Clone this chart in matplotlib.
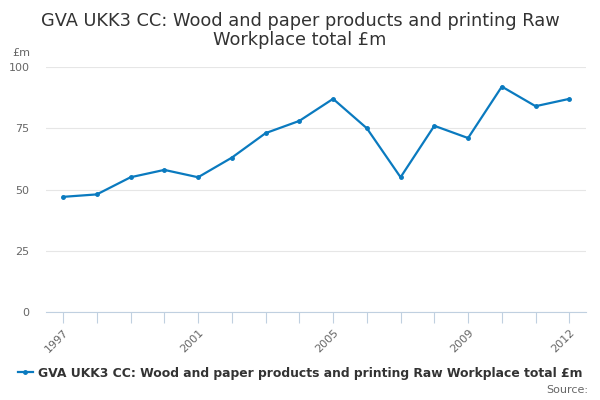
import matplotlib
matplotlib.use("Agg")
from matplotlib import pyplot as plt
from matplotlib.lines import Line2D

years = list(range(1997, 2013))
values = [47, 48, 55, 58, 55, 63, 73, 78, 87, 75, 55, 76, 71, 92, 84, 87]
labelled_years = [1997, 2001, 2005, 2009, 2012]
yticks = [0, 25, 50, 75, 100]
series_name = "GVA UKK3 CC: Wood and paper products and printing Raw Workplace total £m"
title = "GVA UKK3 CC: Wood and paper products and printing Raw\nWorkplace total £m"

line_color = "#0a7abf"

fig = plt.figure(figsize=(6, 4), dpi=100)
ax = fig.add_axes([0.077, 0.22, 0.9, 0.6125])

ax.plot(years, values, color=line_color, linewidth=1.6, marker="o", markersize=2.5)

ax.set_xlim(1996.5, 2012.5)
ax.set_ylim(0, 100)
ax.set_yticks(yticks)
ax.set_yticklabels([str(t) for t in yticks], color="#666666", fontsize=8)
ax.set_xticks(years)
ax.set_xticklabels([str(y) if y in labelled_years else "" for y in years],
                   rotation=45, ha="right", rotation_mode="anchor",
                   color="#666666", fontsize=8)
ax.tick_params(axis="x", length=8, color="#c0d0e0", pad=3)
ax.tick_params(axis="y", length=0, pad=12)

ax.grid(axis="y", color="#e6e6e6", linewidth=0.8)
ax.set_axisbelow(True)
for side in ["top", "right", "left"]:
    ax.spines[side].set_visible(False)
ax.spines["bottom"].set_color("#c0d0e0")

fig.text(0.5, 0.97, title, ha="center", va="top", fontsize=12.8, color="#333333",
         linespacing=1.1)
fig.text(0.02, 0.86, "£m", fontsize=8, color="#666666", ha="left")

handle = Line2D([], [], color=line_color, linewidth=1.6, marker="o", markersize=2.5)
fig.legend([handle], [series_name], loc="center", bbox_to_anchor=(0.5, 0.067),
           frameon=False, handlelength=1.2, handletextpad=0.4,
           prop={"weight": "bold", "size": 8.95}, labelcolor="#333333")
fig.text(0.98, 0.012, "Source:", ha="right", va="bottom", fontsize=8, color="#666666")

fig.savefig("out.png", dpi=100)
